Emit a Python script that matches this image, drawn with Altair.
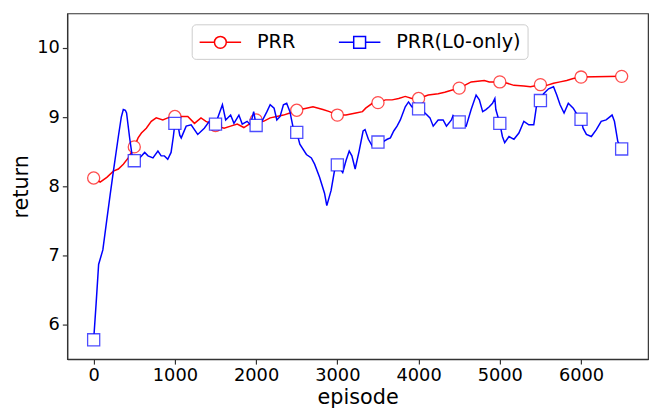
import altair as alt
import pandas as pd

# PRR (red) trace
prr_ep = [0, 80, 162, 243, 304, 365, 426, 500, 547, 588, 648, 709, 770, 851, 912, 1000,
          1078, 1159, 1241, 1321, 1382, 1500, 1606, 1686, 1768, 1849, 1930, 2000, 2092,
          2173, 2255, 2336, 2416, 2500, 2619, 2700, 2822, 2903, 3000, 3106, 3228, 3309,
          3349, 3431, 3500, 3592, 3674, 3755, 3836, 3917, 4000, 4119, 4241, 4322, 4404,
          4500, 4566, 4647, 4728, 4809, 4870, 5000, 5093, 5174, 5296, 5377, 5500, 5579,
          5661, 5742, 5823, 5904, 6000, 6500]
prr_val = [8.12, 8.06, 8.13, 8.22, 8.25, 8.32, 8.41, 8.57, 8.70, 8.77, 8.84, 8.94, 8.99,
           8.96, 8.99, 9.01, 9.01, 9.01, 8.91, 8.99, 8.94, 8.88, 8.84, 8.87, 8.90, 8.85,
           8.91, 8.96, 8.94, 8.99, 9.01, 9.03, 9.06, 9.10, 9.13, 9.15, 9.11, 9.08, 9.03,
           9.03, 9.06, 9.08, 9.13, 9.20, 9.21, 9.25, 9.25, 9.27, 9.30, 9.27, 9.27, 9.32,
           9.34, 9.36, 9.39, 9.42, 9.46, 9.51, 9.52, 9.53, 9.51, 9.51, 9.49, 9.46, 9.45,
           9.44, 9.47, 9.46, 9.49, 9.51, 9.53, 9.56, 9.58, 9.59]

# PRR(L0-only) (blue) trace
l0_ep = [0, 30, 61, 113, 160, 202, 243, 304, 340, 365, 390, 405, 445, 474, 500, 567, 628,
         669, 730, 791, 831, 871, 912, 953, 981, 1000, 1034, 1060, 1078, 1139, 1200, 1281,
         1362, 1423, 1500, 1585, 1625, 1686, 1727, 1788, 1829, 1889, 1930, 1970, 2000,
         2072, 2133, 2173, 2221, 2255, 2295, 2336, 2376, 2416, 2457, 2500, 2538, 2619,
         2680, 2720, 2781, 2842, 2870, 2923, 2964, 3000, 3066, 3106, 3146, 3179, 3219,
         3268, 3317, 3341, 3382, 3431, 3500, 3572, 3613, 3653, 3694, 3735, 3775, 3836,
         3876, 3917, 4000, 4079, 4140, 4180, 4241, 4302, 4343, 4404, 4424, 4460, 4500,
         4586, 4647, 4708, 4748, 4789, 4829, 4870, 4910, 4939, 4951, 5000, 5032, 5060,
         5113, 5174, 5235, 5296, 5357, 5418, 5450, 5500, 5539, 5600, 5661, 5701, 5742,
         5791, 5843, 5904, 5965, 6000, 6025, 6066, 6127, 6188, 6248, 6309, 6382, 6411,
         6452, 6500]
l0_val = [5.78, 6.30, 6.87, 7.08, 7.50, 7.87, 8.22, 8.72, 9.00, 9.11, 9.10, 9.06, 8.68,
          8.44, 8.37, 8.41, 8.49, 8.44, 8.41, 8.51, 8.44, 8.44, 8.39, 8.49, 8.72, 8.91,
          8.91, 8.74, 8.70, 8.87, 8.89, 8.75, 8.84, 8.94, 8.90, 9.18, 8.96, 9.03, 8.91,
          9.03, 8.90, 8.94, 8.89, 9.08, 8.88, 8.94, 9.08, 9.18, 9.13, 8.96, 9.01, 9.18,
          9.20, 9.08, 8.84, 8.78, 8.61, 8.46, 8.41, 8.32, 8.13, 7.90, 7.72, 7.94, 8.22,
          8.31, 8.20, 8.37, 8.51, 8.44, 8.25, 8.51, 8.80, 8.82, 8.68, 8.58, 8.64, 8.65,
          8.68, 8.70, 8.80, 8.87, 8.96, 9.15, 9.22, 9.15, 9.12, 9.06, 8.99, 8.87, 8.96,
          8.96, 8.87, 8.96, 9.02, 8.95, 8.93, 8.87, 9.11, 9.32, 9.25, 9.08, 9.11, 9.15,
          9.20, 9.27, 9.11, 8.91, 8.72, 8.63, 8.72, 8.68, 8.77, 8.94, 8.89, 8.89, 9.15,
          9.24, 9.34, 9.41, 9.44, 9.32, 9.18, 9.06, 9.20, 9.13, 9.01, 8.97, 8.84, 8.75,
          8.72, 8.82, 8.94, 8.96, 9.03, 8.94, 8.65, 8.54]

series_names = ["PRR", "PRR(L0-only)"]
series_colors = ["#ff0000", "#0000ff"]
x_ticks = [0, 1000, 2000, 3000, 4000, 5000, 6000]
y_ticks = [6, 7, 8, 9, 10]

df = pd.concat([
    pd.DataFrame({"episode": prr_ep, "return": prr_val, "series": series_names[0]}),
    pd.DataFrame({"episode": l0_ep, "return": l0_val, "series": series_names[1]}),
], ignore_index=True)
marks_df = df[df["episode"] % 500 == 0].reset_index(drop=True)

FONT = "DejaVu Sans"
xs = alt.Scale(domain=[-325, 6825], nice=False, zero=False)
ys = alt.Scale(domain=[5.5, 10.5], nice=False, zero=False)
X = alt.X("episode:Q", scale=xs, title="episode",
          axis=alt.Axis(values=x_ticks, grid=False, format="d"))
Y = alt.Y("return:Q", scale=ys, title="return",
          axis=alt.Axis(values=y_ticks, grid=False, format="d"))

base = alt.Chart(df)
bm = alt.Chart(marks_df)

def line_layer(name, color):
    return base.transform_filter(alt.datum.series == name).mark_line(
        color=color, strokeWidth=1.5).encode(x=X, y=Y, order="episode:Q")

def mark_layer(name, color, shape):
    return bm.transform_filter(alt.datum.series == name).mark_point(
        shape=shape, filled=True, fill="white", stroke=color, strokeOpacity=0.7,
        strokeWidth=1.3, size=150, opacity=1).encode(x=X, y=Y)

# legend symbols: line stub with marker, unit = 10 px (symbolSize 400)
r = 0.6
w = 2.1
circle_path = (f"M-{w},0H-{r}M{r},0H{w}M{r},0A{r},{r},0,1,1,-{r},0A{r},{r},0,1,1,{r},0Z")
square_path = (f"M-{w},0H-{r}M{r},0H{w}M-{r},-{r}H{r}V{r}H-{r}Z")

def make_legend():
    return alt.Legend(title=None, orient="none", direction="horizontal",
                      legendX=126, legendY=11,
                      symbolSize=400, symbolOpacity=1, symbolOffset=11,
                      symbolStrokeWidth=1.5,
                      labelFont=FONT, labelFontSize=19.5,
                      labelColor="black", labelOffset=26,
                      columnPadding=41, padding=7,
                      fillColor="white", strokeColor="#cccccc",
                      cornerRadius=4)

legend_layer = bm.mark_point(opacity=0, filled=False, strokeWidth=1.5).encode(
    x=X, y=Y,
    color=alt.Color("series:N",
                    scale=alt.Scale(domain=series_names, range=series_colors),
                    legend=make_legend()),
    shape=alt.Shape("series:N",
                    scale=alt.Scale(domain=series_names,
                                    range=[circle_path, square_path]),
                    legend=make_legend()),
)

chart = alt.layer(
    legend_layer,
    line_layer(series_names[0], series_colors[0]),
    mark_layer(series_names[0], series_colors[0], "circle"),
    line_layer(series_names[1], series_colors[1]),
    mark_layer(series_names[1], series_colors[1], "square"),
).properties(
    width=588, height=350,
    autosize=alt.AutoSizeParams(type="none"),
    padding={"left": 60, "top": 3, "right": 5, "bottom": 52},
).configure_view(
    stroke="#333333", strokeWidth=1.2
).configure_axis(
    labelFont=FONT, labelFontSize=18, labelColor="black",
    titleFont=FONT, titleFontSize=21, titleFontWeight="normal", titleColor="black",
    domainColor="#333333", tickColor="#333333", tickSize=5, labelPadding=3,
    domainWidth=1.2, tickWidth=1.2
).configure_axisX(
    titlePadding=2
).configure_axisY(
    titlePadding=5
)

chart.save("out.html", embed_options={"renderer": "svg", "actions": False})
